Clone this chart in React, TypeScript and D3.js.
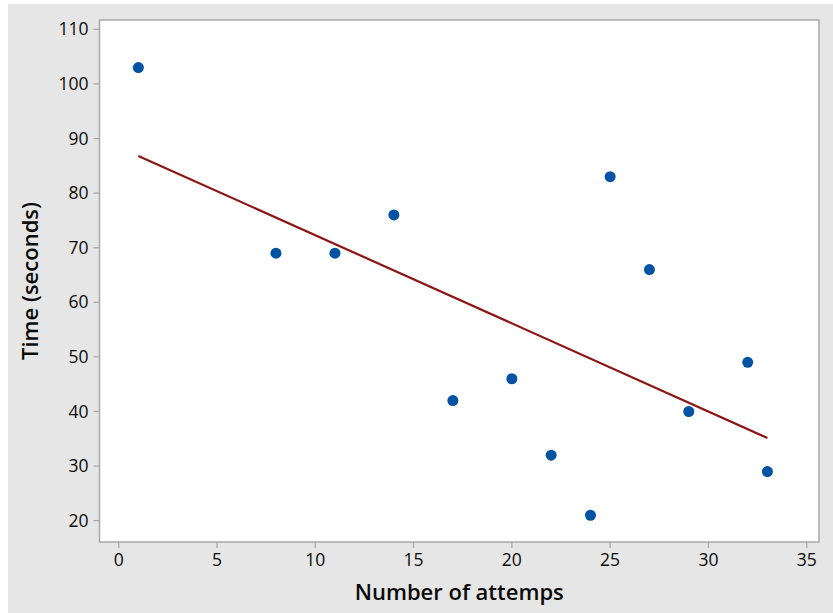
import React from "react";
import * as d3 from "d3";

const attempts = [1, 8, 11, 14, 17, 20, 22, 24, 25, 27, 29, 32, 33];
const times = [103, 69, 69, 76, 42, 46, 32, 21, 83, 66, 40, 49, 29];
const xTicks = [0, 5, 10, 15, 20, 25, 30, 35];
const yTicks = [20, 30, 40, 50, 60, 70, 80, 90, 100, 110];
const xTitle = "Number of attemps";
const yTitle = "Time (seconds)";

const W = 833;
const H = 613;
const plot = { left: 99.5, top: 20, right: 819, bottom: 542 };
const FONT = "'Open Sans', 'Noto Sans', sans-serif";

export default function App() {
  const x = d3.scaleLinear().domain([0, 35]).range([118.7, 806.7]);
  const y = d3.scaleLinear().domain([20, 110]).range([520.7, 29.3]);

  const mx = d3.mean(attempts)!;
  const my = d3.mean(times)!;
  let sxy = 0, sxx = 0;
  attempts.forEach((a, i) => {
    sxy += (a - mx) * (times[i] - my);
    sxx += (a - mx) * (a - mx);
  });
  const slope = sxy / sxx;
  const icpt = my - slope * mx;
  const x0 = d3.min(attempts)!;
  const x1 = d3.max(attempts)!;
  const lineGen = d3.line<number>().x((d) => x(d)).y((d) => y(icpt + slope * d));
  const linePath = lineGen([x0, x1]) || "";

  const axisColor = "#a8a8a8";
  const textColor = "#0a0a0a";

  return (
    <svg
      width={W}
      height={H}
      style={{ position: "absolute", left: 0, top: 0, display: "block" }}
    >
      <rect x={0} y={0} width={W} height={H} fill="#ffffff" />
      <rect x={8} y={4} width={W - 8} height={H - 4} fill="#e6e6e6" />
      <rect
        x={plot.left}
        y={plot.top}
        width={plot.right - plot.left}
        height={plot.bottom - plot.top}
        fill="#ffffff"
        stroke={axisColor}
        strokeWidth={1.5}
      />
      {yTicks.map((t) => (
        <g key={"y" + t}>
          <line x1={plot.left - 6} x2={plot.left} y1={y(t)} y2={y(t)} stroke={axisColor} strokeWidth={1.3} />
          <text
            x={plot.left - 11}
            y={y(t)}
            dy="0.35em"
            textAnchor="end"
            fontFamily={FONT}
            fontSize={17.5}
            fontWeight={500}
            fill={textColor}
          >
            {t}
          </text>
        </g>
      ))}
      {xTicks.map((t) => (
        <g key={"x" + t}>
          <line x1={x(t)} x2={x(t)} y1={plot.bottom} y2={plot.bottom + 6} stroke={axisColor} strokeWidth={1.3} />
          <text
            x={x(t)}
            y={566}
            textAnchor="middle"
            fontFamily={FONT}
            fontSize={17.5}
            fontWeight={500}
            fill={textColor}
          >
            {t}
          </text>
        </g>
      ))}
      <path d={linePath} fill="none" stroke="#8e1414" strokeWidth={2.2} />
      {attempts.map((a, i) => (
        <circle key={i} cx={x(a)} cy={y(times[i])} r={5.5} fill="#0052a5" />
      ))}
      <text
        x={(plot.left + plot.right) / 2}
        y={600}
        textAnchor="middle"
        fontFamily={FONT}
        fontSize={22}
        fontWeight={600}
        fill={textColor}
      >
        {xTitle}
      </text>
      <text
        transform={`translate(38, ${(plot.top + plot.bottom) / 2}) rotate(-90)`}
        textAnchor="middle"
        fontFamily={FONT}
        fontSize={22}
        fontWeight={600}
        fill={textColor}
      >
        {yTitle}
      </text>
    </svg>
  );
}
